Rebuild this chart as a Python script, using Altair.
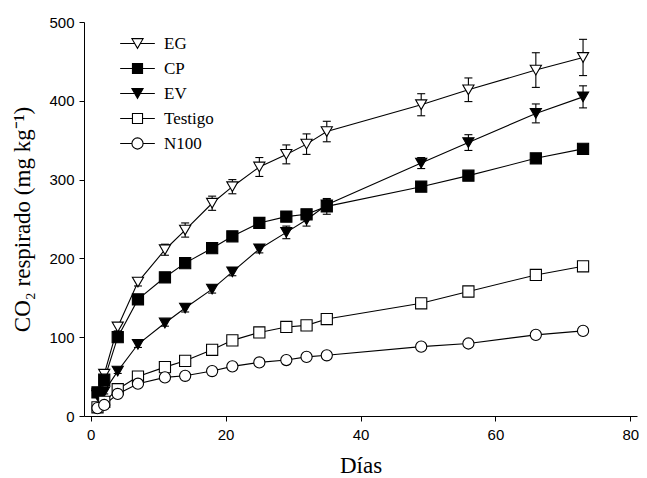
import altair as alt
import pandas as pd

days = [1, 2, 4, 7, 11, 14, 18, 21, 25, 29, 32, 35, 49, 56, 66, 73]
series = ["EG", "CP", "EV", "Testigo", "N100"]
EG = [28, 53, 113, 170, 211, 236, 270, 291, 316, 332, 345, 361, 395, 414, 439, 455]
CP = [30, 46, 100, 148, 176, 194, 213, 228, 245, 253, 256, 266, 291, 305, 327, 339]
EV = [26, 31, 57, 91, 118, 137, 161, 183, 212, 233, 249, 268, 321, 347, 384, 405]
Testigo = [11, 18, 34, 50, 62, 70, 84, 96, 106, 113, 115, 123, 143, 158, 179, 190]
N100 = [10, 14, 28, 41, 49, 51, 57, 63, 68, 71, 75, 77, 88, 92, 103, 108]
EG_err = [3, 4, 5, 5, 7, 9, 9, 9, 12, 12, 13, 13, 14, 15, 22, 23]
CP_err = [3, 3, 4, 4, 4, 4, 4, 5, 5, 6, 6, 10, 4, 4, 4, 4]
EV_err = [2, 3, 3, 4, 4, 5, 5, 5, 5, 8, 8, 7, 7, 10, 12, 14]
Testigo_err = [1, 2, 2, 2, 2, 2, 3, 3, 3, 3, 3, 3, 3, 3, 3, 3]
N100_err = [1, 1, 2, 2, 2, 2, 2, 2, 2, 2, 2, 2, 3, 3, 4, 3]

fills = ["white", "black", "black", "white", "white"]
shapes = ["triangle-down", "square", "triangle-down", "square", "circle"]

vals = {"EG": EG, "CP": CP, "EV": EV, "Testigo": Testigo, "N100": N100}
errs = {"EG": EG_err, "CP": CP_err, "EV": EV_err, "Testigo": Testigo_err, "N100": N100_err}
shape_of = dict(zip(series, shapes))

rows = []
for s in series:
    for d, v, e in zip(days, vals[s], errs[s]):
        rows.append({"serie": s, "forma": shape_of[s], "dia": d, "co2": v, "lo": v - e, "hi": v + e})
df = pd.DataFrame(rows)

tri = "M-3.1,0H-0.5M0.5,0H3.1M-1,-0.866L1,-0.866L0,0.866Z"
sq = "M-3.1,0H-0.9M0.9,0H3.1M-0.9,-0.9H0.9V0.9H-0.9Z"
circ = "M-3.1,0H-1M1,0H3.1M-1,0A1,1,0,1,1,1,0A1,1,0,1,1,-1,0Z"
shape_expr = (
    f"datum.value === 'CP' || datum.value === 'Testigo' ? '{sq}' : "
    f"datum.value === 'N100' ? '{circ}' : '{tri}'"
)

xs = alt.Scale(domain=[-1, 81], nice=False, zero=False)
ys = alt.Scale(domain=[0, 500], nice=False)

x_axis = alt.Axis(values=[0, 20, 40, 60, 80], title="Días", grid=False)
y_axis = alt.Axis(values=[0, 100, 200, 300, 400, 500], title="CO₂ respirado (mg kg⁻¹)", grid=False)

base = alt.Chart(df)

lines = base.mark_line(color="black", strokeWidth=1.1).encode(
    x=alt.X("dia:Q", scale=xs, axis=x_axis),
    y=alt.Y("co2:Q", scale=ys, axis=y_axis),
    detail="serie:N",
)

bars = base.mark_rule(color="black", strokeWidth=1.1).encode(
    x="dia:Q", y="lo:Q", y2="hi:Q"
)
cap_hi = base.mark_tick(orient="horizontal", size=8, thickness=1.1, color="black", opacity=1).encode(
    x="dia:Q", y="hi:Q"
)
cap_lo = base.mark_tick(orient="horizontal", size=8, thickness=1.1, color="black", opacity=1).encode(
    x="dia:Q", y="lo:Q"
)

legend = alt.Legend(
    title=None,
    orient="none",
    legendX=45,
    legendY=13,
    padding=0,
    labelFont="Liberation Serif",
    labelFontSize=17,
    labelColor="black",
    labelOffset=18,
    rowPadding=7,
    symbolSize=125,
    symbolStrokeColor="black",
    symbolStrokeWidth=1.1,
    symbolType={"expr": shape_expr},
)

points = base.mark_point(filled=True, stroke="black", strokeWidth=1.1, size=125, opacity=1).encode(
    x="dia:Q",
    y="co2:Q",
    shape=alt.Shape("forma:N", scale=None, legend=None),
    fill=alt.Fill("serie:N", scale=alt.Scale(domain=series, range=fills), legend=legend),
)

chart = (
    alt.layer(lines, bars, cap_hi, cap_lo, points)
    .properties(
        width=553,
        height=394,
        padding={"left": 76, "top": 14, "right": 2, "bottom": 62},
        autosize=alt.AutoSizeParams(type="none"),
        background="white",
    )
    .configure_view(stroke=None)
    .configure_axis(
        domainColor="black",
        domainWidth=1,
        tickColor="black",
        tickWidth=1,
        tickSize=5,
        labelFont="Liberation Sans",
        labelFontSize=15,
        labelColor="black",
        titleFont="Liberation Serif",
        titleFontSize=23,
        titleFontWeight="normal",
        titleColor="black",
    )
    .configure_axisX(labelPadding=6, titlePadding=12)
    .configure_axisY(labelPadding=5, titlePadding=14)
)

chart.save("out.html", embed_options={"renderer": "svg", "actions": False})
